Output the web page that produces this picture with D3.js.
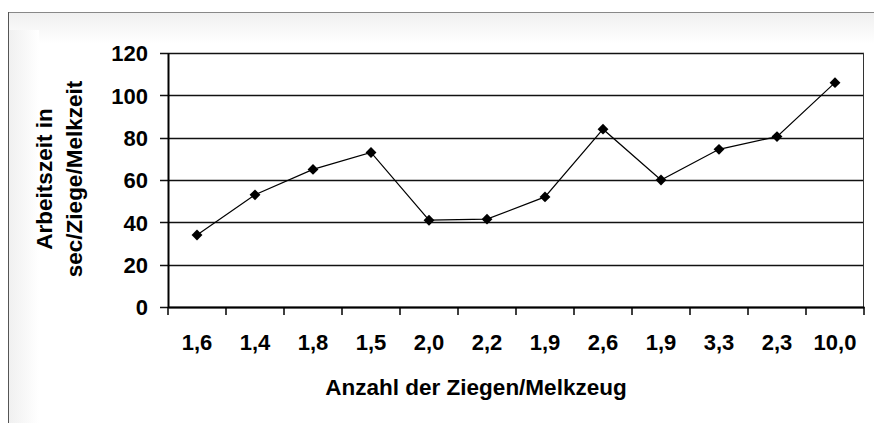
<!DOCTYPE html>
<html>
  <head>
    <meta charset="utf-8" />
    <script src="https://d3js.org/d3.v7.min.js"></script>
    <title>Arbeitszeit</title>
    <style>
      body { margin: 0; background: #fff; }
      text { font-family: Arial, 'Liberation Sans', sans-serif; font-weight: bold; fill: #000; }
    </style>
  </head>
  <body>
    <div id="chart"></div>
    <script>
      // category labels (x) and values (y)
      var labels = ['1,6', '1,4', '1,8', '1,5', '2,0', '2,2', '1,9', '2,6', '1,9', '3,3', '2,3', '10,0'];
      var values = [34, 53, 65, 73, 41, 41.5, 52, 84, 60, 74.5, 80.5, 106];
      var yTicks = [0, 20, 40, 60, 80, 100, 120];

      var width = 874,
        height = 423;
      var margin = { top: 53, right: 10, bottom: 116, left: 168 };
      var plotW = width - margin.left - margin.right;
      var plotH = height - margin.top - margin.bottom;

      var svg = d3
        .select('#chart')
        .append('svg')
        .attr('width', width)
        .attr('height', height);

      // soft frame shadow
      var defs = svg.append('defs');
      var gTop = defs.append('linearGradient').attr('id', 'shTop').attr('x1', 0).attr('y1', 0).attr('x2', 0).attr('y2', 1);
      gTop.append('stop').attr('offset', 0).attr('stop-color', '#f0f0f0');
      gTop.append('stop').attr('offset', 1).attr('stop-color', '#ffffff');
      var gLeft = defs.append('linearGradient').attr('id', 'shLeft').attr('x1', 0).attr('y1', 0).attr('x2', 1).attr('y2', 0);
      gLeft.append('stop').attr('offset', 0).attr('stop-color', '#f0f0f0');
      gLeft.append('stop').attr('offset', 1).attr('stop-color', '#ffffff');

      svg.append('rect').attr('x', 9).attr('y', 13).attr('width', width - 9).attr('height', 30).attr('fill', 'url(#shTop)');
      svg.append('rect').attr('x', 9).attr('y', 30).attr('width', 30).attr('height', height - 30).attr('fill', 'url(#shLeft)');

      svg.append('line').attr('x1', 8).attr('x2', width).attr('y1', 12.5).attr('y2', 12.5).attr('stroke', '#888');
      svg.append('line').attr('x1', 8.5).attr('x2', 8.5).attr('y1', 12).attr('y2', height).attr('stroke', '#555');

      var g = svg.append('g').attr('transform', 'translate(' + margin.left + ',' + margin.top + ')');

      var x = d3.scaleBand().domain(d3.range(labels.length)).range([0, plotW]);
      var y = d3.scaleLinear().domain([0, 120]).range([plotH, 0]);

      // plot background
      g.append('rect').attr('width', plotW).attr('height', plotH).attr('fill', '#fff');

      // gridlines
      g.append('g')
        .selectAll('line')
        .data(yTicks)
        .join('line')
        .attr('x1', -8)
        .attr('x2', plotW)
        .attr('y1', (d) => Math.round(y(d)) + 0.5)
        .attr('y2', (d) => Math.round(y(d)) + 0.5)
        .attr('stroke', '#111')
        .attr('stroke-width', 1.3);

      // right border
      g.append('line')
        .attr('x1', plotW - 0.5).attr('x2', plotW - 0.5)
        .attr('y1', y(120)).attr('y2', y(0))
        .attr('stroke', '#333');

      // y axis
      var yAxis = g.append('g').call(d3.axisLeft(y).tickValues(yTicks).tickSize(0).tickPadding(20));
      yAxis.select('.domain').attr('stroke', '#000').attr('stroke-width', 2);
      yAxis.selectAll('text').style('font-size', '22px').attr('dy', '0.35em');

      // x axis
      var xAxis = g
        .append('g')
        .attr('transform', 'translate(0,' + plotH + ')')
        .call(d3.axisBottom(x).tickSize(0).tickPadding(27).tickFormat((i) => labels[i]));
      xAxis.select('.domain').attr('stroke', '#000').attr('stroke-width', 2);
      xAxis.selectAll('text').style('font-size', '22px');

      // category separator ticks
      g.append('g')
        .selectAll('line')
        .data(d3.range(labels.length + 1))
        .join('line')
        .attr('x1', (i) => (i < labels.length ? x(i) : plotW))
        .attr('x2', (i) => (i < labels.length ? x(i) : plotW))
        .attr('y1', plotH)
        .attr('y2', plotH + 8)
        .attr('stroke', '#000')
        .attr('stroke-width', 1.5);

      // line
      var line = d3
        .line()
        .x((d, i) => x(i) + x.bandwidth() / 2)
        .y((d) => y(d));

      g.append('path').datum(values).attr('d', line).attr('fill', 'none').attr('stroke', '#000').attr('stroke-width', 1.2);

      g.append('g')
        .selectAll('path')
        .data(values)
        .join('path')
        .attr('d', d3.symbol().type(d3.symbolDiamond2).size(75))
        .attr('transform', (d, i) => 'translate(' + (x(i) + x.bandwidth() / 2) + ',' + y(d) + ')')
        .attr('fill', '#000');

      // axis titles
      svg
        .append('text')
        .attr('x', 476)
        .attr('y', 395)
        .attr('text-anchor', 'middle')
        .style('font-size', '22.5px')
        .text('Anzahl der Ziegen/Melkzeug');

      var yt = svg.append('text').attr('transform', 'translate(0,179) rotate(-90)').attr('text-anchor', 'middle').style('font-size', '22.5px');
      yt.append('tspan').attr('x', 0).attr('y', 52).text('Arbeitszeit in');
      yt.append('tspan').attr('x', 0).attr('y', 82).text('sec/Ziege/Melkzeit');
    </script>
  </body>
</html>
